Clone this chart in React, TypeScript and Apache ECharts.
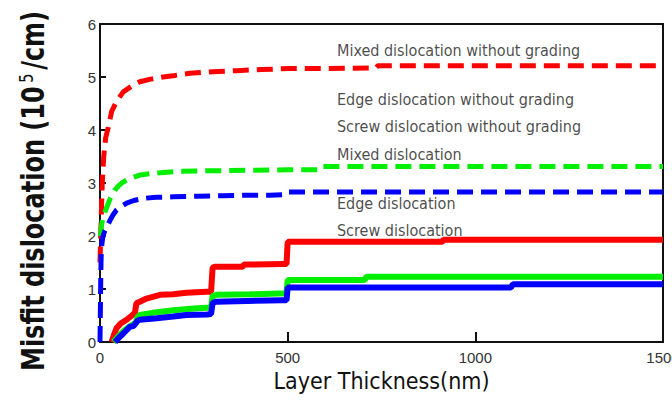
import React, { useEffect, useRef } from "react";
import * as echarts from "echarts";

// ---- data (x in nm, y in 10^5/cm) ----
const mixedNoGradingX = [0, 3, 6, 10, 15, 22, 31, 45, 62, 85, 106, 135, 168, 200, 239, 300, 364, 430, 505, 600, 735, 740, 900, 1100, 1300, 1500];
const mixedNoGradingY = [1.5, 2.3, 3.0, 3.5, 3.85, 4.05, 4.35, 4.55, 4.72, 4.83, 4.91, 4.96, 5.0, 5.03, 5.07, 5.1, 5.12, 5.14, 5.16, 5.16, 5.17, 5.21, 5.21, 5.21, 5.21, 5.21];

const edgeNoGradingX = [1, 4, 8, 13, 19, 28, 40, 50, 62, 80, 106, 135, 168, 220, 284, 400, 505, 588, 593, 800, 1100, 1500];
const edgeNoGradingY = [2.0, 2.2, 2.35, 2.45, 2.56, 2.72, 2.87, 2.95, 3.02, 3.09, 3.15, 3.18, 3.2, 3.22, 3.23, 3.24, 3.25, 3.25, 3.31, 3.31, 3.31, 3.31];

const screwNoGradingX = [0, 1, 2, 3, 5, 8, 13, 20, 27, 35, 44, 57, 71, 90, 115, 150, 195, 260, 328, 400, 452, 490, 497, 700, 1000, 1500];
const screwNoGradingY = [0, 0.6, 1.2, 1.6, 1.85, 2.0, 2.1, 2.2, 2.3, 2.4, 2.49, 2.56, 2.62, 2.67, 2.71, 2.73, 2.74, 2.75, 2.76, 2.77, 2.77, 2.78, 2.83, 2.83, 2.83, 2.83];

const mixedX = [31, 38, 44, 55, 71, 85, 93, 97, 106, 124, 160, 195, 230, 284, 296, 300, 306, 380, 383, 488, 497, 500, 912, 915, 1500];
const mixedY = [0, 0.15, 0.26, 0.35, 0.42, 0.5, 0.55, 0.73, 0.76, 0.82, 0.89, 0.9, 0.93, 0.95, 0.95, 1.4, 1.42, 1.42, 1.46, 1.47, 1.47, 1.89, 1.89, 1.93, 1.93];

const edgeX = [36, 50, 62, 80, 95, 100, 106, 140, 195, 250, 296, 300, 310, 400, 497, 500, 705, 710, 1500];
const edgeY = [0, 0.12, 0.2, 0.3, 0.36, 0.47, 0.51, 0.55, 0.6, 0.63, 0.65, 0.87, 0.89, 0.9, 0.92, 1.17, 1.17, 1.23, 1.23];

const screwX = [40, 50, 62, 80, 89, 100, 106, 151, 195, 230, 284, 296, 300, 310, 487, 497, 500, 1095, 1100, 1500];
const screwY = [0, 0.08, 0.16, 0.29, 0.3, 0.4, 0.42, 0.45, 0.48, 0.51, 0.52, 0.53, 0.74, 0.76, 0.79, 0.79, 1.03, 1.03, 1.09, 1.09];

const labelTexts = [
  "Mixed dislocation without grading",
  "Edge dislocation without grading",
  "Screw dislocation without grading",
  "Mixed dislocation",
  "Edge dislocation",
  "Screw dislocation",
];
const labelX = [630, 630, 630, 630, 630, 630];
const labelY = [5.5, 4.58, 4.06, 3.53, 2.62, 2.11];

const xTicks = [0, 500, 1000, 1500];
const yTicks = [0, 1, 2, 3, 4, 5, 6];

const zip = (xs: number[], ys: number[]) => xs.map((x, i) => [x, ys[i]]);

const RED = "#ff0000";
const GREEN = "#00ee00";
const BLUE = "#0000ff";
const NARROW = "'Liberation Sans Narrow', 'DejaVu Sans Condensed', sans-serif";

export default function App() {
  const ref = useRef<HTMLDivElement>(null);
  useEffect(() => {
    if (!ref.current) return;
    const chart = echarts.init(ref.current, null, { renderer: "svg" });
    const dashed = (name: string, color: string, data: number[][]) => ({
      name,
      type: "line",
      data,
      showSymbol: false,
      symbol: "none",
      smooth: false,
      lineStyle: { color, width: 5, type: [16, 8], cap: "butt" },
      z: 3,
    });
    const solid = (name: string, color: string, data: number[][]) => ({
      name,
      type: "line",
      data,
      showSymbol: false,
      symbol: "none",
      lineStyle: { color, width: 6 },
      z: 3,
    });
    chart.setOption({
      animation: false,
      backgroundColor: "#ffffff",
      grid: {
        left: 100,
        right: 9,
        top: 24,
        bottom: 59,
        outerBoundsMode: "none",
        containLabel: false,
        show: true,
        borderColor: "#111",
        borderWidth: 2,
        backgroundColor: "transparent",
      },
      xAxis: {
        type: "value",
        min: 0,
        max: 1500,
        interval: 500,
        name: "Layer Thickness(nm)",
        nameLocation: "middle",
        nameGap: 26,
        nameTextStyle: { fontFamily: NARROW, fontSize: 23, color: "#111" },
        axisLine: { show: true, lineStyle: { color: "#111", width: 2 } },
        axisTick: { show: true, inside: true, length: 10, lineStyle: { color: "#111", width: 2 } },
        axisLabel: {
          margin: 8,
          fontFamily: "'Liberation Sans', sans-serif",
          fontSize: 15,
          color: "#333",
          hideOverlap: false,
          formatter: (v: number) => (xTicks.includes(v) ? String(v) : ""),
        },
        splitLine: { show: false },
      },
      yAxis: {
        type: "value",
        min: 0,
        max: 6,
        interval: 1,
        axisLine: { show: true, lineStyle: { color: "#111", width: 2 } },
        axisTick: { show: true, inside: true, length: 6, lineStyle: { color: "#111", width: 2 } },
        axisLabel: {
          margin: 4,
          fontFamily: "'Liberation Sans', sans-serif",
          fontSize: 15,
          color: "#333",
          formatter: (v: number) => (yTicks.includes(v) ? String(v) : ""),
        },
        splitLine: { show: false },
      },
      graphic: [
        {
          type: "text",
          x: 33,
          y: 191,
          rotation: Math.PI / 2,
          scaleX: 1.2,
          scaleY: 1.6,
          style: {
            text: "{a|Misfit dislocation (10}{s|5}{a|/cm)}",
            align: "center",
            verticalAlign: "middle",
            fill: "#111",
            rich: {
              a: { fontFamily: "'DejaVu Sans', sans-serif", fontWeight: "bold", fontSize: 20, fill: "#111" },
              s: { fontFamily: "'DejaVu Sans', sans-serif", fontSize: 12, fill: "#111", verticalAlign: "top", padding: [0, 3, 8, 3] },
            },
          },
        },
      ],
      series: [
        dashed("Mixed dislocation without grading", RED, zip(mixedNoGradingX, mixedNoGradingY)),
        dashed("Edge dislocation without grading", GREEN, zip(edgeNoGradingX, edgeNoGradingY)),
        dashed("Screw dislocation without grading", BLUE, zip(screwNoGradingX, screwNoGradingY)),
        solid("Mixed dislocation", RED, zip(mixedX, mixedY)),
        solid("Edge dislocation", GREEN, zip(edgeX, edgeY)),
        solid("Screw dislocation", BLUE, zip(screwX, screwY)),
        {
          name: "labels",
          type: "scatter",
          symbolSize: 1,
          itemStyle: { color: "transparent" },
          data: labelTexts.map((t, i) => ({ value: [labelX[i], labelY[i]], name: t })),
          label: {
            show: true,
            position: "right",
            distance: 0,
            formatter: (p: any) => p.name,
            fontFamily: NARROW,
            fontSize: 16,
            color: "#1a1a1a",
          },
          z: 5,
        },
      ],
    });
    return () => chart.dispose();
  }, []);
  return <div ref={ref} style={{ width: 672, height: 401, position: "absolute", left: 0, top: 0 }} />;
}
